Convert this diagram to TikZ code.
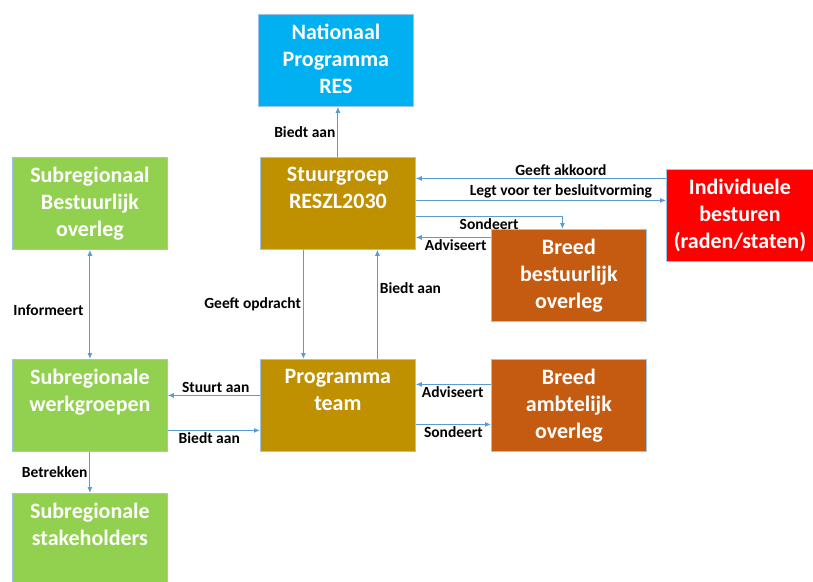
\documentclass[tikz,border=0pt]{standalone}
\usepackage{fontspec}
\setmainfont{Carlito}
\usetikzlibrary{arrows.meta}
\definecolor{nblue}{HTML}{00B0F0}
\definecolor{ngold}{HTML}{BF9000}
\definecolor{ngreen}{HTML}{92D050}
\definecolor{nbrown}{HTML}{C55A11}
\definecolor{nred}{HTML}{FF0000}
\definecolor{nline}{HTML}{5B9BD5}

\begin{document}
\begin{tikzpicture}[x=1pt, y=-1pt, >={Latex[length=6pt,width=5pt]}]
        \tikzstyle{box}=[draw=nline!60, line width=0.8pt, anchor=north west, minimum width=155pt, minimum height=92pt, inner sep=0pt]
        \tikzstyle{boxtxt}=[anchor=north, yshift=-10pt, inner sep=0pt, align=center, text=white, font=\fontsize{22}{27}\selectfont\bfseries, execute at begin node=\strut]
        \tikzstyle{conn}=[draw=nline, line width=1pt, ->]
        \tikzstyle{lbl}=[font=\fontsize{15.5}{17}\selectfont\bfseries, inner sep=2pt]

        \useasboundingbox (0,0) rectangle (813,581);

        \node (nat)     [box, fill=nblue,  label={[boxtxt]north:Nationaal\\Programma\\RES}] at (258,14) {};
        \node (stuur)   [box, fill=ngold,  label={[boxtxt]north:Stuurgroep\\RESZL2030}] at (260,157) {};
        \node (subbest) [box, fill=ngreen, label={[boxtxt]north:Subregionaal\\Bestuurlijk\\overleg}] at (12,157) {};
        \node (indiv)   [box, fill=nred, minimum width=147pt, label={[boxtxt]north:Individuele\\besturen\\(raden/staten)}] at (666,169) {};
        \node (breedb)  [box, fill=nbrown, label={[boxtxt]north:Breed\\bestuurlijk\\overleg}] at (491,229) {};
        \node (prog)    [box, fill=ngold,  label={[boxtxt]north:Programma\\team}] at (260,359) {};
        \node (breeda)  [box, fill=nbrown, label={[boxtxt]north:Breed\\ambtelijk\\overleg}] at (491,359) {};
        \node (werk)    [box, fill=ngreen, label={[boxtxt]north:Subregionale\\werkgroepen}] at (12,359) {};
        \node (stake)   [box, fill=ngreen, label={[boxtxt]north:Subregionale\\stakeholders}] at (12,493) {};

        \draw[conn] (stuur.north) -- node[lbl, left] {Biedt aan} (stuur.north |- nat.south);
        \draw[conn] ([yshift=37pt]indiv.west) -- node[lbl, above, pos=.42] {Geeft akkoord} ([yshift=25pt]stuur.east);
        \draw[conn] ([yshift=3pt]stuur.east) -- node[lbl, above, pos=.58] {Legt voor ter besluitvorming} ([yshift=15pt]indiv.west);
        \draw[conn] ([yshift=-13pt]stuur.east) -| node[lbl, below, pos=.25] {Sondeert} ([xshift=-6.5pt]breedb.north);
        \draw[conn] ([yshift=38pt]breedb.west) -- node[lbl, below, pos=.47] {Adviseert} ([yshift=-34pt]stuur.east);
        \draw[conn] ([xshift=-34.5pt]stuur.south) -- node[lbl, left] {Geeft opdracht} ([xshift=-34.5pt]prog.north);
        \draw[conn] ([xshift=39.5pt]prog.north) -- node[lbl, right, pos=.645] {Biedt aan} ([xshift=39.5pt]stuur.south);
        \draw[conn] ([yshift=10pt]prog.west) -- node[lbl, above, pos=.48] {Stuurt aan} ([yshift=10pt]werk.east);
        \draw[conn] ([yshift=-25pt]werk.east) -- node[lbl, below, pos=.45] {Biedt aan} ([yshift=-25pt]prog.west);
        \draw[conn] ([yshift=21pt]breeda.west) -- node[lbl, below, pos=.51] {Adviseert} ([yshift=21pt]prog.east);
        \draw[conn] ([yshift=-19pt]prog.east) -- node[lbl, below] {Sondeert} ([yshift=-19pt]breeda.west);
        \draw[conn, <->] (subbest.south) -- node[lbl, left=4pt, pos=.55] {Informeert} (werk.north);
        \draw[conn] (werk.south) -- node[lbl, left] {Betrekken} (stake.north);

\end{tikzpicture}
\end{document}
